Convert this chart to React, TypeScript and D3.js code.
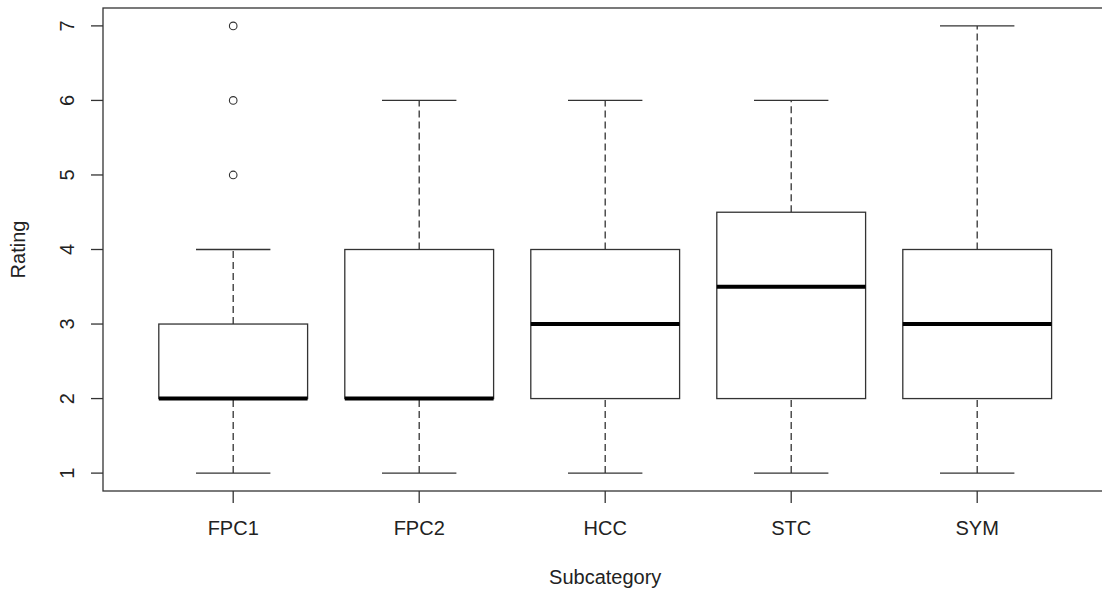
import React from "react";
import * as d3 from "d3";

const categories = ["FPC1", "FPC2", "HCC", "STC", "SYM"];
const whiskerLow = [1, 1, 1, 1, 1];
const q1 = [2, 2, 2, 2, 2];
const medians = [2, 2, 3, 3.5, 3];
const q3 = [3, 4, 4, 4.5, 4];
const whiskerHigh = [4, 6, 6, 6, 7];
const outliers: number[][] = [[5, 6, 7], [], [], [], []];
const yTicks = [1, 2, 3, 4, 5, 6, 7];

const W = 1102;
const H = 592;
const left = 103;
const top = 8;
const bottom = 491;
const unit = 186;

export default function App() {
  const x = d3.scaleLinear().domain([0.3, 5.7]).range([left, left + 5.4 * unit]);
  const y = d3.scaleLinear().domain([0.76, 7.24]).range([bottom, top]);
  const boxHalf = (x(1.4) - x(1)) ;
  const capHalf = boxHalf / 2;
  const font = "'Liberation Sans', Arial, sans-serif";
  const line = "#333";

  return (
    <svg
      width={W}
      height={H}
      style={{ position: "absolute", left: 0, top: 0, display: "block", background: "#fff" }}
      fontFamily={font}
    >
      <rect x={0} y={0} width={W} height={H} fill="#fff" />
      {categories.map((c, i) => {
        const cx = x(i + 1);
        return (
          <g key={c}>
            <line x1={cx} x2={cx} y1={y(whiskerLow[i])} y2={y(q1[i])} stroke={line} strokeWidth={1.3} strokeDasharray="7,4" />
            <line x1={cx} x2={cx} y1={y(q3[i])} y2={y(whiskerHigh[i])} stroke={line} strokeWidth={1.3} strokeDasharray="7,4" />
            <line x1={cx - capHalf} x2={cx + capHalf} y1={y(whiskerLow[i])} y2={y(whiskerLow[i])} stroke={line} strokeWidth={1.3} />
            <line x1={cx - capHalf} x2={cx + capHalf} y1={y(whiskerHigh[i])} y2={y(whiskerHigh[i])} stroke={line} strokeWidth={1.3} />
            <rect
              x={cx - boxHalf}
              y={y(q3[i])}
              width={2 * boxHalf}
              height={y(q1[i]) - y(q3[i])}
              fill="#fff"
              stroke={line}
              strokeWidth={1.3}
            />
            <line x1={cx - boxHalf} x2={cx + boxHalf} y1={y(medians[i])} y2={y(medians[i])} stroke="#000" strokeWidth={4} />
            {outliers[i].map((o, j) => (
              <circle key={j} cx={cx} cy={y(o)} r={3.8} fill="none" stroke={line} strokeWidth={1.1} />
            ))}
          </g>
        );
      })}
      {/* frame */}
      <rect x={left} y={top} width={5.4 * unit} height={bottom - top} fill="none" stroke={line} strokeWidth={1.3} />
      {/* y axis */}
      {yTicks.map((t) => (
        <g key={t}>
          <line x1={left - 12} x2={left} y1={y(t)} y2={y(t)} stroke={line} strokeWidth={1.3} />
          <text
            transform={`translate(${74},${y(t)}) rotate(-90)`}
            textAnchor="middle"
            fontSize={20}
            fill="#222"
          >
            {t}
          </text>
        </g>
      ))}
      {/* x axis */}
      {categories.map((c, i) => (
        <g key={c}>
          <line x1={x(i + 1)} x2={x(i + 1)} y1={bottom} y2={bottom + 12} stroke={line} strokeWidth={1.3} />
          <text x={x(i + 1)} y={535} textAnchor="middle" fontSize={20} fill="#222">
            {c}
          </text>
        </g>
      ))}
      <text x={x(3)} y={584} textAnchor="middle" fontSize={20} fill="#222">
        Subcategory
      </text>
      <text transform={`translate(25,${(top + bottom) / 2}) rotate(-90)`} textAnchor="middle" fontSize={20} fill="#222">
        Rating
      </text>
    </svg>
  );
}
